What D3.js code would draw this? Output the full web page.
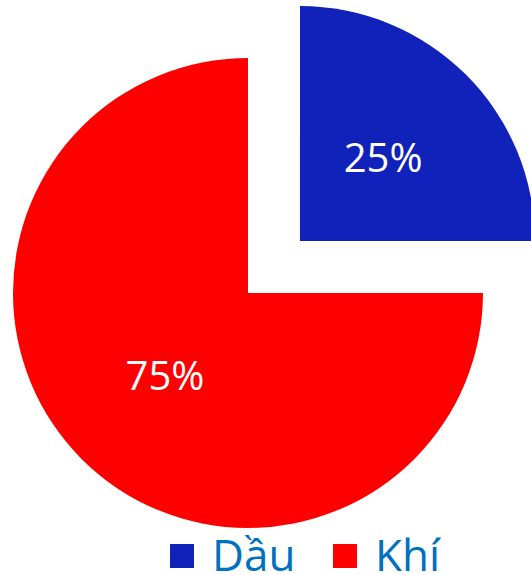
<!DOCTYPE html>
<html>
<head>
<meta charset="utf-8">
<script src="https://cdn.jsdelivr.net/npm/d3@7"></script>
<style>
  body { margin: 0; background: #fff; }
  svg { display: block; }
</style>
</head>
<body>
<svg id="chart" width="531" height="575"></svg>
<script>
"use strict";
const categories = ["Dầu", "Khí"];
const values = [25, 75];
const colors = ["#1122BB", "#FF0000"];

(function() {
  const svg = d3.select("#chart");
  const cx = 248, cy = 293, radius = 235;
  const explode = [73.5, 0];   // pull-out distance per slice

  const pie = d3.pie().sort(null).value(d => d);
  const arc = d3.arc().innerRadius(0).outerRadius(radius);
  const arcs = pie(values);

  const g = svg.append("g").attr("transform", `translate(${cx},${cy})`);

  const slice = g.selectAll("g.slice")
    .data(arcs)
    .enter().append("g")
      .attr("class", "slice")
      .attr("transform", (d, i) => {
        const a = (d.startAngle + d.endAngle) / 2;
        return `translate(${Math.sin(a) * explode[i]},${-Math.cos(a) * explode[i]})`;
      });

  slice.append("path")
    .attr("d", arc)
    .attr("fill", (d, i) => colors[i]);

  slice.append("text")
    .attr("transform", d => `translate(${arc.centroid(d)})`)
    .attr("text-anchor", "middle")
    .attr("dy", "0.36em")
    .style("font-family", "'Open Sans', sans-serif")
    .style("font-size", "40px")
    .style("fill", "#fff")
    .text(d => d.data + "%");

  // Legend
  const legendX = [170, 333];
  const legend = svg.selectAll("g.legend")
    .data(categories)
    .enter().append("g")
      .attr("class", "legend")
      .attr("transform", (d, i) => `translate(${legendX[i]},544)`);

  legend.append("rect")
    .attr("width", 24)
    .attr("height", 24)
    .attr("fill", (d, i) => colors[i]);

  legend.append("text")
    .attr("x", 42)
    .attr("y", 27)
    .style("font-family", "'Open Sans', sans-serif")
    .style("font-size", "44px")
    .style("fill", "#0070C0")
    .text(d => d);
})();
</script>
</body>
</html>
